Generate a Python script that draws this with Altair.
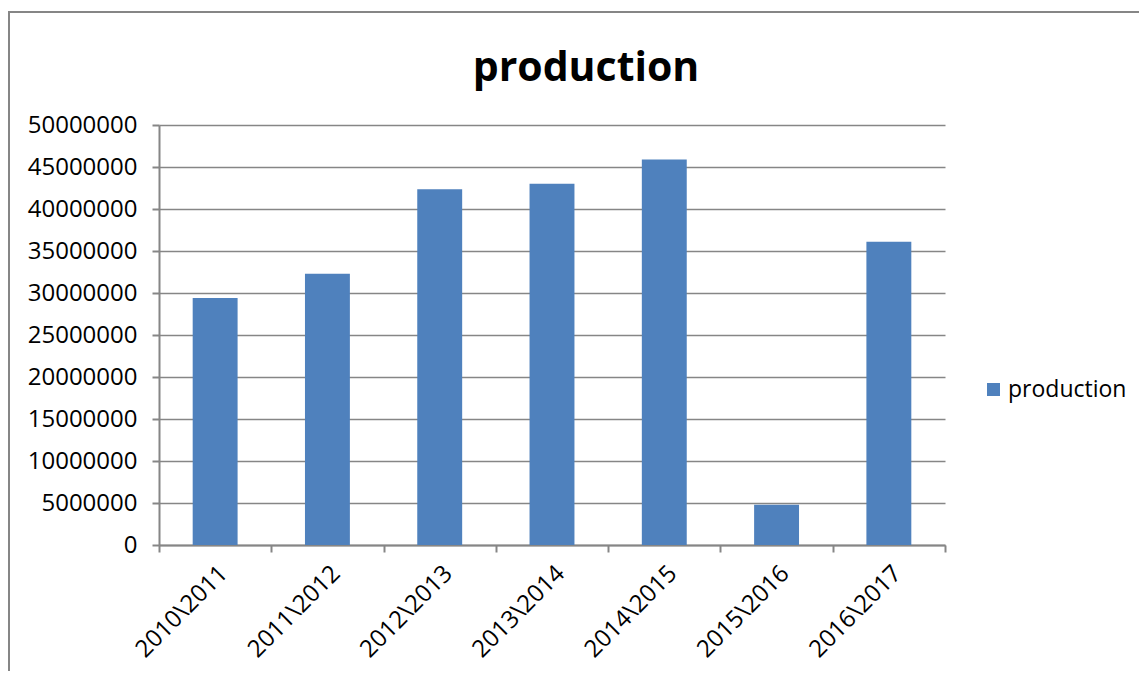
import altair as alt
import pandas as pd

seasons = ["2010\\2011", "2011\\2012", "2012\\2013", "2013\\2014",
           "2014\\2015", "2015\\2016", "2016\\2017"]
production = [29400000, 32300000, 42350000, 43000000, 45900000, 4800000, 36100000]
series_name = "production"
y_ticks = [0, 5000000, 10000000, 15000000, 20000000, 25000000,
           30000000, 35000000, 40000000, 45000000, 50000000]

df = pd.DataFrame({"season": seasons, "production": production,
                   "series": [series_name] * len(seasons)})

FONT = "Open Sans"
GRAY = "#868686"
BLUE = "#4F81BD"

frame = alt.Chart(alt.Data(values=[{"a": 1}])).mark_rect(
    filled=False, stroke=GRAY, strokeWidth=2
).encode(
    x=alt.value(-150), x2=alt.value(1000),
    y=alt.value(-113), y2=alt.value(560)
)

bars = alt.Chart(df).mark_bar(color=BLUE, width=alt.RelativeBandSize(0.4)).encode(
    x=alt.X("season:N", sort=seasons,
            scale=alt.Scale(paddingInner=0, paddingOuter=0),
            axis=alt.Axis(title=None, labelAngle=-45, labelFont=FONT,
                          labelFontSize=24, labelColor="#000000",
                          tickBand="extent", tickSize=7, tickColor=GRAY,
                          tickWidth=2, domainColor=GRAY, domainWidth=2,
                          labelPadding=9, grid=False)),
    y=alt.Y("production:Q",
            scale=alt.Scale(domain=[0, 50000000], nice=False),
            axis=alt.Axis(title=None, values=y_ticks, format="d",
                          labelFont=FONT, labelFontSize=24,
                          labelColor="#000000", tickSize=7, tickColor=GRAY,
                          tickWidth=2, domainColor=GRAY, domainWidth=2,
                          labelPadding=15, grid=True, gridColor=GRAY,
                          gridWidth=1.5)),
    color=alt.Color("series:N",
                    scale=alt.Scale(domain=[series_name], range=[BLUE]),
                    legend=alt.Legend(title=None, orient="none",
                                      legendX=823, legendY=253,
                                      symbolType="square", symbolSize=169,
                                      symbolStrokeWidth=0, labelFont=FONT,
                                      labelFontSize=23, labelColor="#000000",
                                      labelOffset=3, padding=0))
)

chart = alt.layer(frame, bars).properties(
    width=786, height=420,
    title=alt.TitleParams("production", font=FONT, fontSize=41,
                          fontWeight="bold", color="#000000",
                          anchor="middle", frame="group", dx=34, dy=141,
                          offset=30, baseline="alphabetic"),
    autosize=alt.AutoSizeParams(type="none"),
    padding={"left": 151, "top": 117, "right": 194, "bottom": 126}
).configure_view(stroke=None)

chart.save("out.html", embed_options={"renderer": "svg", "actions": False})
